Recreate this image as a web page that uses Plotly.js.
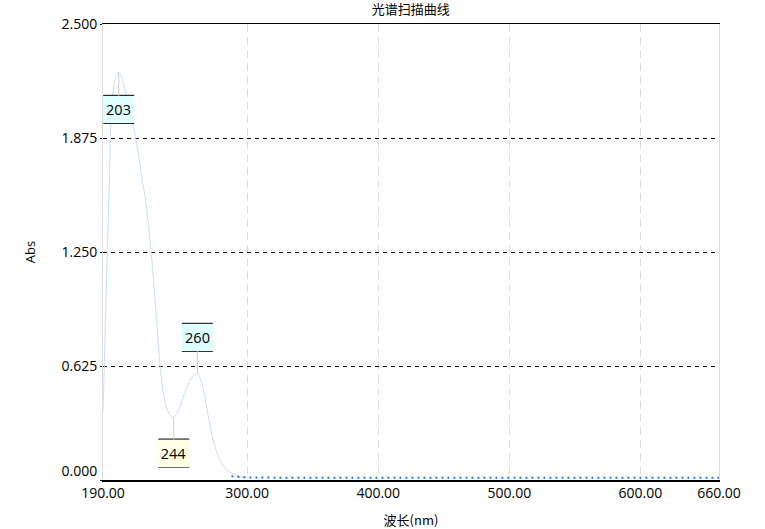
<!DOCTYPE html>
<html><head><meta charset="utf-8">
<script src="https://cdn.plot.ly/plotly-3.0.1.min.js"></script>
<style>html,body{margin:0;padding:0;background:#fff}#chart{width:765px;height:529px}</style>
</head><body><div id="chart"></div>
<script>
// Main spectrum (wavelength nm, absorbance)
const wavelength = [190,191,192,193,194,195,196,197,198,199,200,201,202,203,204,205,206,208,210,212,214,216,218,220,222,224,226,228,230,232,234,236,238,240,242,244,246,248,250,252,254,256,258,260,262,264,266,268,270,272,274,276,278,280,282,284,286,288,290,292,294,296,298,300];
const absorbance = [0.38,0.62,0.90,1.18,1.42,1.68,1.97,2.08,2.15,2.19,2.215,2.23,2.235,2.23,2.215,2.19,2.16,2.10,2.04,1.98,1.91,1.83,1.74,1.64,1.56,1.44,1.31,1.14,0.96,0.76,0.59,0.48,0.41,0.37,0.35,0.345,0.36,0.39,0.43,0.47,0.51,0.54,0.565,0.578,0.585,0.56,0.51,0.44,0.36,0.285,0.22,0.17,0.13,0.10,0.075,0.058,0.046,0.038,0.032,0.027,0.022,0.018,0.015,0.013];
// Baseline tail (near zero) drawn as dotted segment
const tailWavelength = [288,300,320,340,360,380,400,420,440,460,480,500,520,540,560,580,600,620,640,660];
const tailAbsorbance = [0.020,0.014,0.013,0.014,0.012,0.013,0.012,0.013,0.012,0.012,0.013,0.012,0.012,0.013,0.012,0.012,0.013,0.012,0.012,0.012];
// Peak labels
const peakLabels = ['203','260','244'];
const peakWavelengths = [203,260,244];
const peakTypes = ['max','max','min'];
// Axis ticks
const xTickVals = [190,300,400,500,600,660];
const xTickText = ['190.00','300.00','400.00','500.00','600.00','660.00'];
const yTickVals = [0,0.625,1.25,1.875,2.5];
const yTickText = ['','0.625','1.250','1.875','2.500'];
const yZeroVal = [0];
const yZeroText = ['0.000'];

// find local extremum of the data near a labelled wavelength
function extremum(w, type){
  let best=-1;
  for(let i=0;i<wavelength.length;i++){
    if(Math.abs(wavelength[i]-w)>4) continue;
    if(best<0 || (type==='max' ? absorbance[i]>absorbance[best] : absorbance[i]<absorbance[best])) best=i;
  }
  return [wavelength[best], absorbance[best]];
}

const traces = [
  {x: wavelength, y: absorbance, type:'scatter', mode:'lines', line:{color:'rgb(200,222,252)', width:1, shape:'spline', smoothing:0.6}, hoverinfo:'skip'},
  {x: tailWavelength, y: tailAbsorbance, type:'scatter', mode:'lines', line:{color:'rgb(30,120,240)', width:2, dash:'2px,4px'}, hoverinfo:'skip'},
  {x: [190], y: [0], yaxis:'y2', type:'scatter', mode:'markers', marker:{opacity:0}, hoverinfo:'skip'}
];

// offsets (pixels): box center relative to point; up positive for shapes
const offs = {'203': -37, '260': 36, '244': -36};
const bg = {'max':'rgb(224,255,255)', 'min':'rgb(255,255,232)'};
const annotations = [], shapes = [];
peakLabels.forEach((lab,i)=>{
  const [wx, wy] = extremum(peakWavelengths[i], peakTypes[i]);
  const off = offs[lab];
  annotations.push({x:wx, y:wy, xref:'x', yref:'y', text:lab, showarrow:true, arrowhead:0, arrowwidth:1, arrowcolor:'#cccccc',
    ax:0, ay:-off, bgcolor:bg[peakTypes[i]], borderwidth:0, borderpad:0, width:31, height:27,
    font:{family:'Open Sans', size:14.5, color:'#000'}});
  [off+14, off-14].forEach(yy=>{
    shapes.push({type:'line', xref:'x', yref:'y', xsizemode:'pixel', ysizemode:'pixel', xanchor:wx, yanchor:wy,
      x0:-15.5, x1:15.5, y0:yy, y1:yy, line:{color:'#000', width:1}, layer:'above'});
  });
});

const layout = {
  width:765, height:529,
  margin:{l:103, r:46, t:24, b:49},
  paper_bgcolor:'#fff', plot_bgcolor:'#fff',
  showlegend:false,
  title:{text:'光谱扫描曲线', font:{family:'Noto Sans CJK SC', size:13, color:'#000'}, x:0.537, xanchor:'center', y:1-9/529, yanchor:'middle', yref:'container'},
  xaxis:{range:[190,660], tickvals:xTickVals, ticktext:xTickText, ticks:'', showline:true, linecolor:'#000', linewidth:1.5, mirror:true,
    showgrid:true, gridcolor:'#dddddd', griddash:'8px,5px', gridwidth:1, zeroline:false,
    tickfont:{family:'Open Sans', size:14, color:'#000'},
    title:{text:'波长(nm)', font:{family:'Noto Sans CJK SC', size:13, color:'#000'}, standoff:14}},
  yaxis:{range:[0,2.5], tickvals:yTickVals, ticktext:yTickText, ticks:'outside', ticklen:2, tickcolor:'#000', showline:true, linecolor:'#dddddd', linewidth:1, mirror:true,
    showgrid:true, gridcolor:'#000', griddash:'4px,4px', gridwidth:1, zeroline:false,
    tickfont:{family:'Open Sans', size:14, color:'#000'},
    title:{text:'Abs', font:{family:'Open Sans', size:13, color:'#000'}, standoff:22}},
  yaxis2:{overlaying:'y', side:'left', range:[0,2.5], tickvals:yZeroVal, ticktext:yZeroText, ticks:'outside', ticklen:2, tickcolor:'rgba(0,0,0,0)',
    ticklabelshift:-9, showline:false, showgrid:false, zeroline:false, tickfont:{family:'Open Sans', size:14, color:'#000'}},
  annotations: annotations,
  shapes: shapes
};
Plotly.newPlot('chart', traces, layout, {displayModeBar:false, staticPlot:true});
</script></body></html>
